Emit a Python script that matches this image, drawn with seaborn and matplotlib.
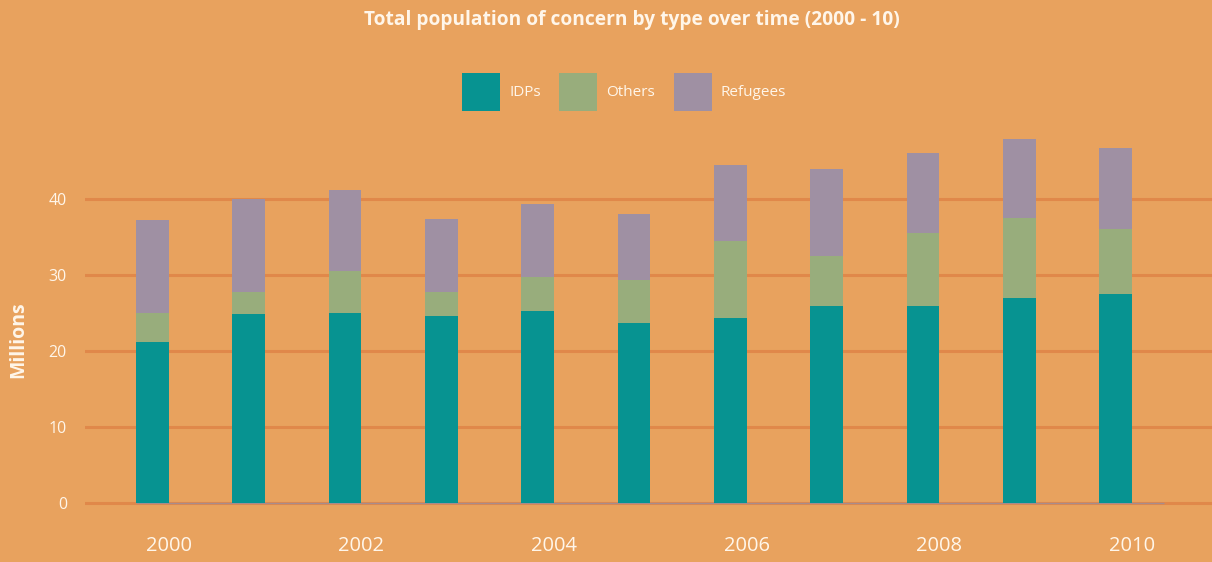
import matplotlib
matplotlib.use("Agg")
import matplotlib.pyplot as plt
import seaborn as sns
import pandas as pd
import numpy as np
from matplotlib.patches import Patch

years = ["2000", "2001", "2002", "2003", "2004", "2005", "2006", "2007", "2008", "2009", "2010"]
idps = [21.2, 24.9, 25.0, 24.6, 25.3, 23.7, 24.4, 26.0, 26.0, 27.0, 27.6]
others = [3.8, 2.9, 5.6, 3.2, 4.5, 5.7, 10.1, 6.6, 9.6, 10.5, 8.5]
refugees = [12.3, 12.2, 10.6, 9.6, 9.6, 8.7, 10.0, 11.4, 10.5, 10.4, 10.7]
series = ["IDPs", "Others", "Refugees"]
colors = ["#079391", "#98AD7C", "#9F90A3"]
tick_years = ["2000", "2002", "2004", "2006", "2008", "2010"]

BG = "#E8A25E"
GRID = "#E0884A"
TXT = "#FFF6EA"

sns.set_theme(style="white")
plt.rcParams["font.family"] = ["Open Sans", "DejaVu Sans"]

df = pd.DataFrame({"year": years, "IDPs": idps, "Others": others, "Refugees": refugees})
df["c1"] = df["IDPs"]
df["c2"] = df["IDPs"] + df["Others"]
df["c3"] = df["c2"] + df["Refugees"]

fig = plt.figure(figsize=(12.12, 5.62), dpi=100, facecolor=BG)
ax = fig.add_axes([85 / 1212, 0.0909, 1 - 85 / 1212, 0.6897])
ax.set_facecolor(BG)

for col, c in zip(["c3", "c2", "c1"], colors[::-1]):
    sns.barplot(data=df, x="year", y=col, order=years, color=c, width=0.34,
                saturation=1, linewidth=0, edgecolor="none", ax=ax, zorder=3)

ax.set_xlim(-0.7, 11.0)
ax.set_ylim(-1, 50)
ax.set_yticks([0, 10, 20, 30, 40])
ax.set_yticklabels(["0", "10", "20", "30", "40"], color=TXT, fontsize=11.5)
pos = [years.index(y) + 0.17 for y in tick_years]
ax.set_xticks(pos)
ax.set_xticklabels(tick_years, color=TXT, fontsize=14.5)
ax.tick_params(axis="y", length=0, pad=13)
ax.tick_params(axis="x", length=0, pad=18)
ax.yaxis.grid(True, color=GRID, lw=2.2)
ax.set_axisbelow(True)
ax.set_xlabel("")
ax.set_ylabel("")
for s in ax.spines.values():
    s.set_visible(False)
ax.hlines(0, -0.17, 10.5, color="#A88C8C", lw=1, zorder=2)

fig.text(18 / 1212, 1 - 340 / 562, "Millions", rotation=90, ha="center", va="center",
         color=TXT, fontsize=14, fontweight="bold")
fig.text(632 / 1212, 1 - 20 / 562, "Total population of concern by type over time (2000 - 10)",
         ha="center", va="center", color=TXT, fontsize=13.8, fontweight="bold")

handles = [Patch(facecolor=c, edgecolor="none", label=s) for s, c in zip(series, colors)]
leg = fig.legend(handles=handles, loc="center", bbox_to_anchor=(624 / 1212, 1 - 92 / 562),
                 ncol=3, frameon=False, fontsize=11, handlelength=2.5, handleheight=3.4,
                 handletextpad=0.6, columnspacing=1.2, labelcolor=TXT)

fig.savefig("out.png", dpi=100, facecolor=BG)
